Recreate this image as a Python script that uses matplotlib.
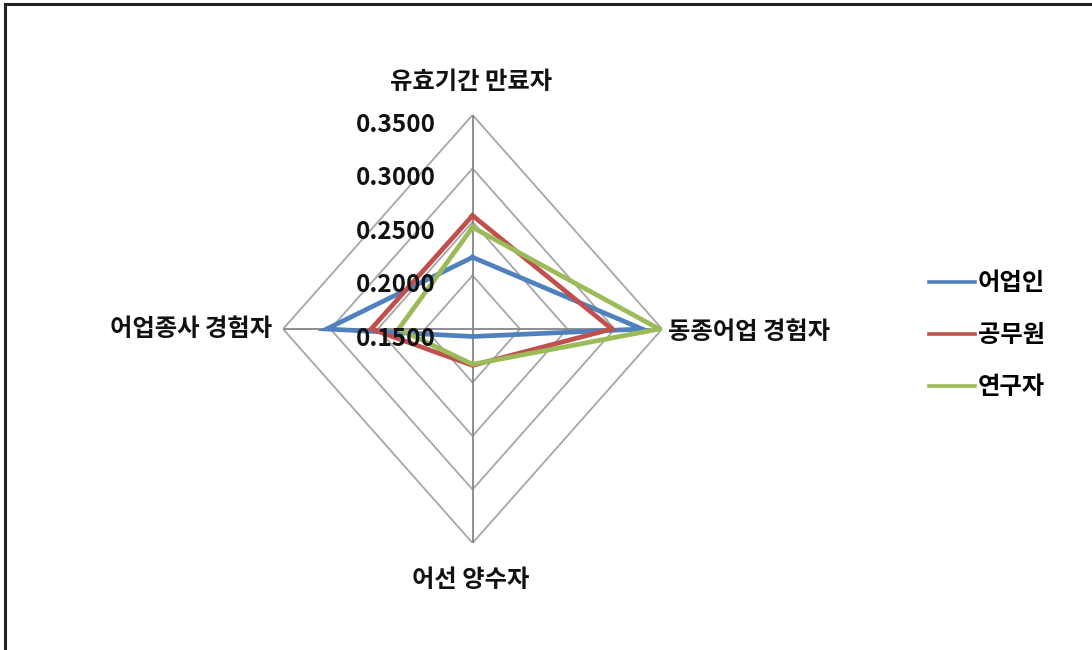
"""Radar chart: 어업인 / 공무원 / 연구자 weights over four criteria."""

import matplotlib
matplotlib.use('Agg')
import matplotlib.pyplot as plt
from matplotlib.patches import Rectangle
import numpy as np

plt.rcParams['font.family'] = ['Noto Sans CJK KR', 'DejaVu Sans']

# clockwise from the top
categories = ['유효기간 만료자', '동종어업 경험자', '어선 양수자', '어업종사 경험자']
series_names = ['어업인', '공무원', '연구자']
fisher = [0.217, 0.329, 0.157, 0.304]
official = [0.256, 0.297, 0.184, 0.257]
researcher = [0.245, 0.347, 0.183, 0.228]
levels = [0.15, 0.20, 0.25, 0.30, 0.35]
level_labels = ['0.1500', '0.2000', '0.2500', '0.3000', '0.3500']

colors = ['#4F81BD', '#C0504D', '#9BBB59']
FS = 17.5


def main():
    fig = plt.figure(figsize=(10.92, 6.5), dpi=100)
    fig.patch.set_facecolor('white')

    # frame of the original screenshot (only left and top edges visible)
    fig.add_artist(Rectangle((0.0045, -0.1), 1.2, 1.0935, transform=fig.transFigure,
                             fill=False, edgecolor='#202020', linewidth=2.2))

    ax = fig.add_axes([0.2592, 0.1646, 0.3471, 0.6585], projection='polar')
    ax.set_aspect('auto')
    ax.set_theta_zero_location('N')
    ax.set_theta_direction(-1)
    ax.set_rlim(levels[0], levels[-1])
    ax.grid(False)
    ax.spines['polar'].set_visible(False)
    ax.set_xticks([])
    ax.set_yticks([])
    ax.set_facecolor('none')

    theta = np.deg2rad([0, 90, 180, 270])
    closed = np.append(theta, theta[0])

    # diamond gridlines and spokes
    for lv in levels[1:]:
        ax.plot(closed, [lv] * 5, color='#A6A6A6', linewidth=1.3, zorder=1)
    for t in theta:
        ax.plot([t, t], [levels[0], levels[-1]], color='#868686', linewidth=1.3, zorder=1)

    for vals, name, c in zip([fisher, official, researcher], series_names, colors):
        ax.plot(closed, vals + vals[:1], color=c, linewidth=3.4, label=name,
                solid_joinstyle='miter', zorder=3)

    # radial tick labels next to the top spoke, drawn over the lines
    for lv, lab in zip(levels, level_labels):
        ax.annotate(lab, xy=(0, lv), xytext=(-37, -10), textcoords='offset pixels',
                    ha='right', va='center', fontsize=FS, fontweight='bold',
                    color='#111111', zorder=5)

    offsets = [((-2, 33), 'center'), ((6, -3), 'left'), ((-2, -37), 'center'), ((-11, 0), 'right')]
    for t, lab, (off, ha) in zip(theta, categories, offsets):
        ax.annotate(lab, xy=(t, levels[-1]), xytext=off, textcoords='offset pixels',
                    ha=ha, va='center', fontsize=FS, fontweight='bold', color='#111111')

    leg = fig.legend(loc='center left', bbox_to_anchor=(0.851, 0.484), frameon=False,
                     prop={'size': FS, 'weight': 'bold'}, handlelength=1.9,
                     handletextpad=0.1, labelspacing=1.15, borderpad=0, borderaxespad=0)
    for line in leg.get_lines():
        line.set_linewidth(2.6)

    fig.savefig('out.png', dpi=100)
    plt.close(fig)


if __name__ == '__main__':
    main()
